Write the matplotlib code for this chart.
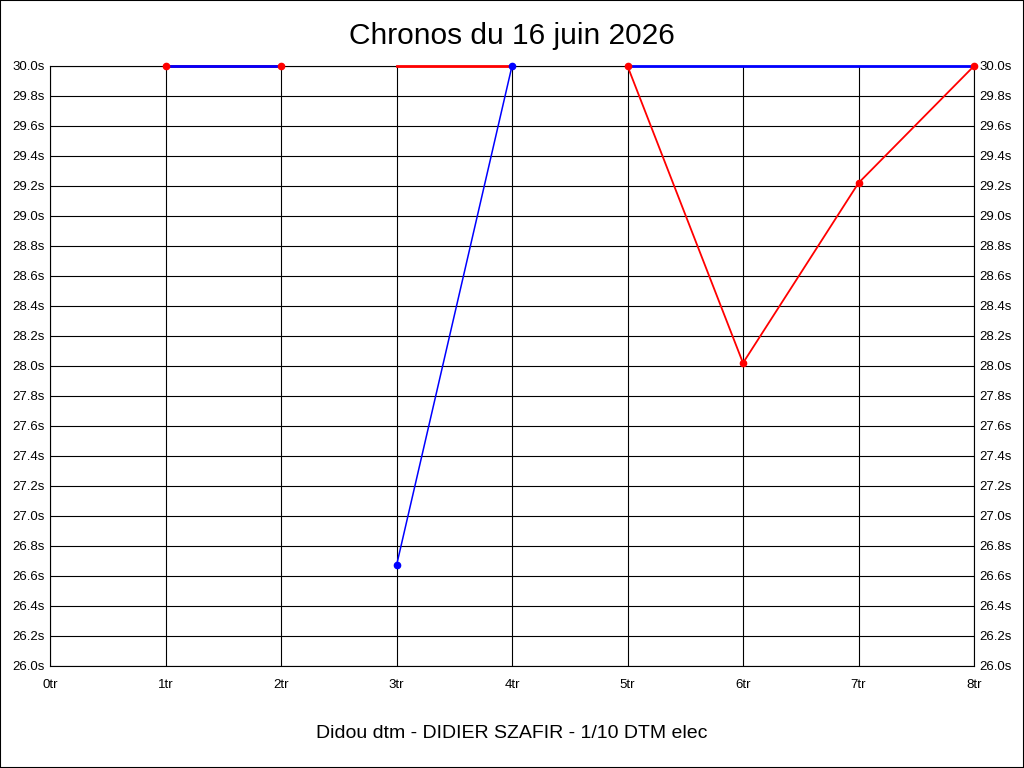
import matplotlib
matplotlib.use("Agg")
import matplotlib.pyplot as plt
import numpy as np

plt.rcParams["font.family"] = ["Liberation Sans", "DejaVu Sans"]

# laps and lap times (values above 30.0s are shown at the 30.0s ceiling)
laps = list(range(0, 9))
lap_labels = [f"{i}tr" for i in laps]

red_segments = [
    ([1, 2], [30.0, 30.0]),
    ([3, 4], [30.0, 30.0]),
    ([5, 6, 7, 8], [30.0, 28.02, 29.22, 30.0]),
]
red_marker_laps = [1, 2, 5, 6, 7, 8]
red_marker_times = [30.0, 30.0, 30.0, 28.02, 29.22, 30.0]

blue_segments = [
    ([1, 2], [30.0, 30.0]),
    ([3, 4], [26.67, 30.0]),
    ([5, 6, 7, 8], [30.0, 30.0, 30.0, 30.0]),
]
blue_marker_laps = [3, 4]
blue_marker_times = [26.67, 30.0]

y_ticks = np.round(np.arange(26.0, 30.01, 0.2), 1)
y_labels = [f"{v:.1f}s" for v in y_ticks]

fig = plt.figure(figsize=(10.24, 7.68), dpi=100)
fig.patch.set_facecolor("white")
ax = fig.add_axes([50 / 1024, 1 - 666 / 768, 924 / 1024, 600 / 768])

for x, y in red_segments:
    lw = 2.0 if len(set(y)) == 1 else 1.3
    ax.plot(x, y, color="red", lw=lw, zorder=3, clip_on=False)
for x, y in blue_segments:
    lw = 2.0 if len(set(y)) == 1 else 1.1
    ax.plot(x, y, color="blue", lw=lw, zorder=4, clip_on=False)
ax.plot(red_marker_laps, red_marker_times, "o", color="red", ms=4.5, zorder=5, clip_on=False)
ax.plot(blue_marker_laps, blue_marker_times, "o", color="blue", ms=4.5, zorder=6, clip_on=False)

ax.set_xlim(0, 8)
ax.set_ylim(26.0, 30.0)
ax.set_xticks(laps)
ax.set_xticklabels(lap_labels)
ax.set_yticks(y_ticks)
ax.set_yticklabels(y_labels)
ax.grid(True, color="black", lw=0.8)
ax.set_axisbelow(True)
ax.tick_params(axis="both", length=0, labelsize=9.5, colors="black")
ax.tick_params(axis="x", pad=9)
ax.tick_params(axis="y", pad=4, right=True, labelright=True)
for s in ax.spines.values():
    s.set_color("black")
    s.set_linewidth(0.8)

fig.text(0.5, 1 - 36 / 768, "Chronos du 16 juin 2026", ha="center", va="center", fontsize=21.5)
fig.text(0.5, 1 - 733 / 768, "Didou dtm - DIDIER SZAFIR - 1/10 DTM elec", ha="center", va="center", fontsize=14)

fig.add_artist(plt.Rectangle((0, 0), 1, 1, transform=fig.transFigure, fill=False,
                             edgecolor="black", lw=1.5))

fig.savefig("out.png", dpi=100)
